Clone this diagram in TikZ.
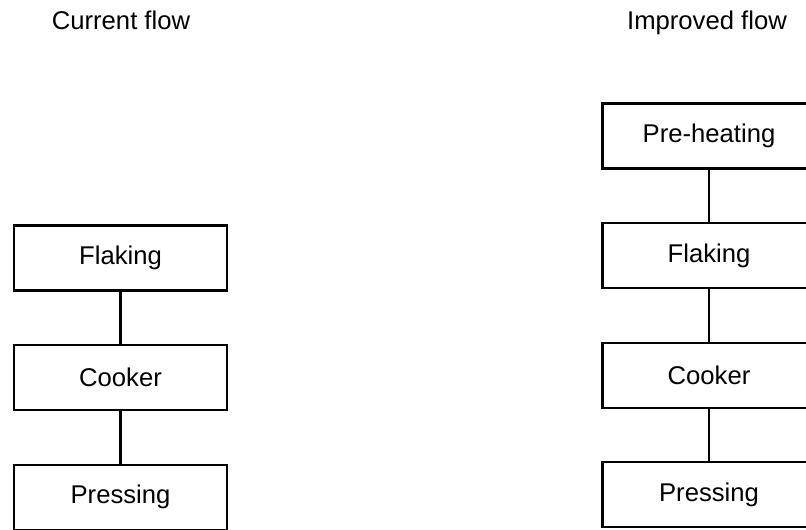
\documentclass[tikz,border=0pt]{standalone}
\usepackage{fontspec}
\setmainfont{Liberation Sans}
\usetikzlibrary{positioning}

\begin{document}
\begin{tikzpicture}[x=0.02cm,y=-0.02cm,node distance=1.05cm,
  txt/.style={font=\fontsize{14.6}{17}\selectfont},
  stage/.style={txt,draw,line width=1.2pt,minimum width=4.26cm,minimum height=1.3cm,inner sep=0pt}]
\useasboundingbox (0,0) rectangle (806,529);
\node[txt,anchor=base] (ctitle) at (121,29) {Current flow};
\node[txt,anchor=base] (ititle) at (707,29) {Improved flow};
% current flow
\node[stage] (cflak) at (120.5,258) {Flaking};
\node[stage,below=of cflak] (ccook) {Cooker};
\node[stage,below=of ccook] (cpress) {Pressing};
% improved flow
\node[stage] (iheat) at (709,136) {Pre-heating};
\node[stage,below=of iheat] (iflak) {Flaking};
\node[stage,below=of iflak] (icook) {Cooker};
\node[stage,below=of icook] (ipress) {Pressing};
\foreach \a/\b in {cflak/ccook,ccook/cpress,iheat/iflak,iflak/icook,icook/ipress} {\draw[line width=1.2pt] (\a)--(\b);}
\end{tikzpicture}
\end{document}
